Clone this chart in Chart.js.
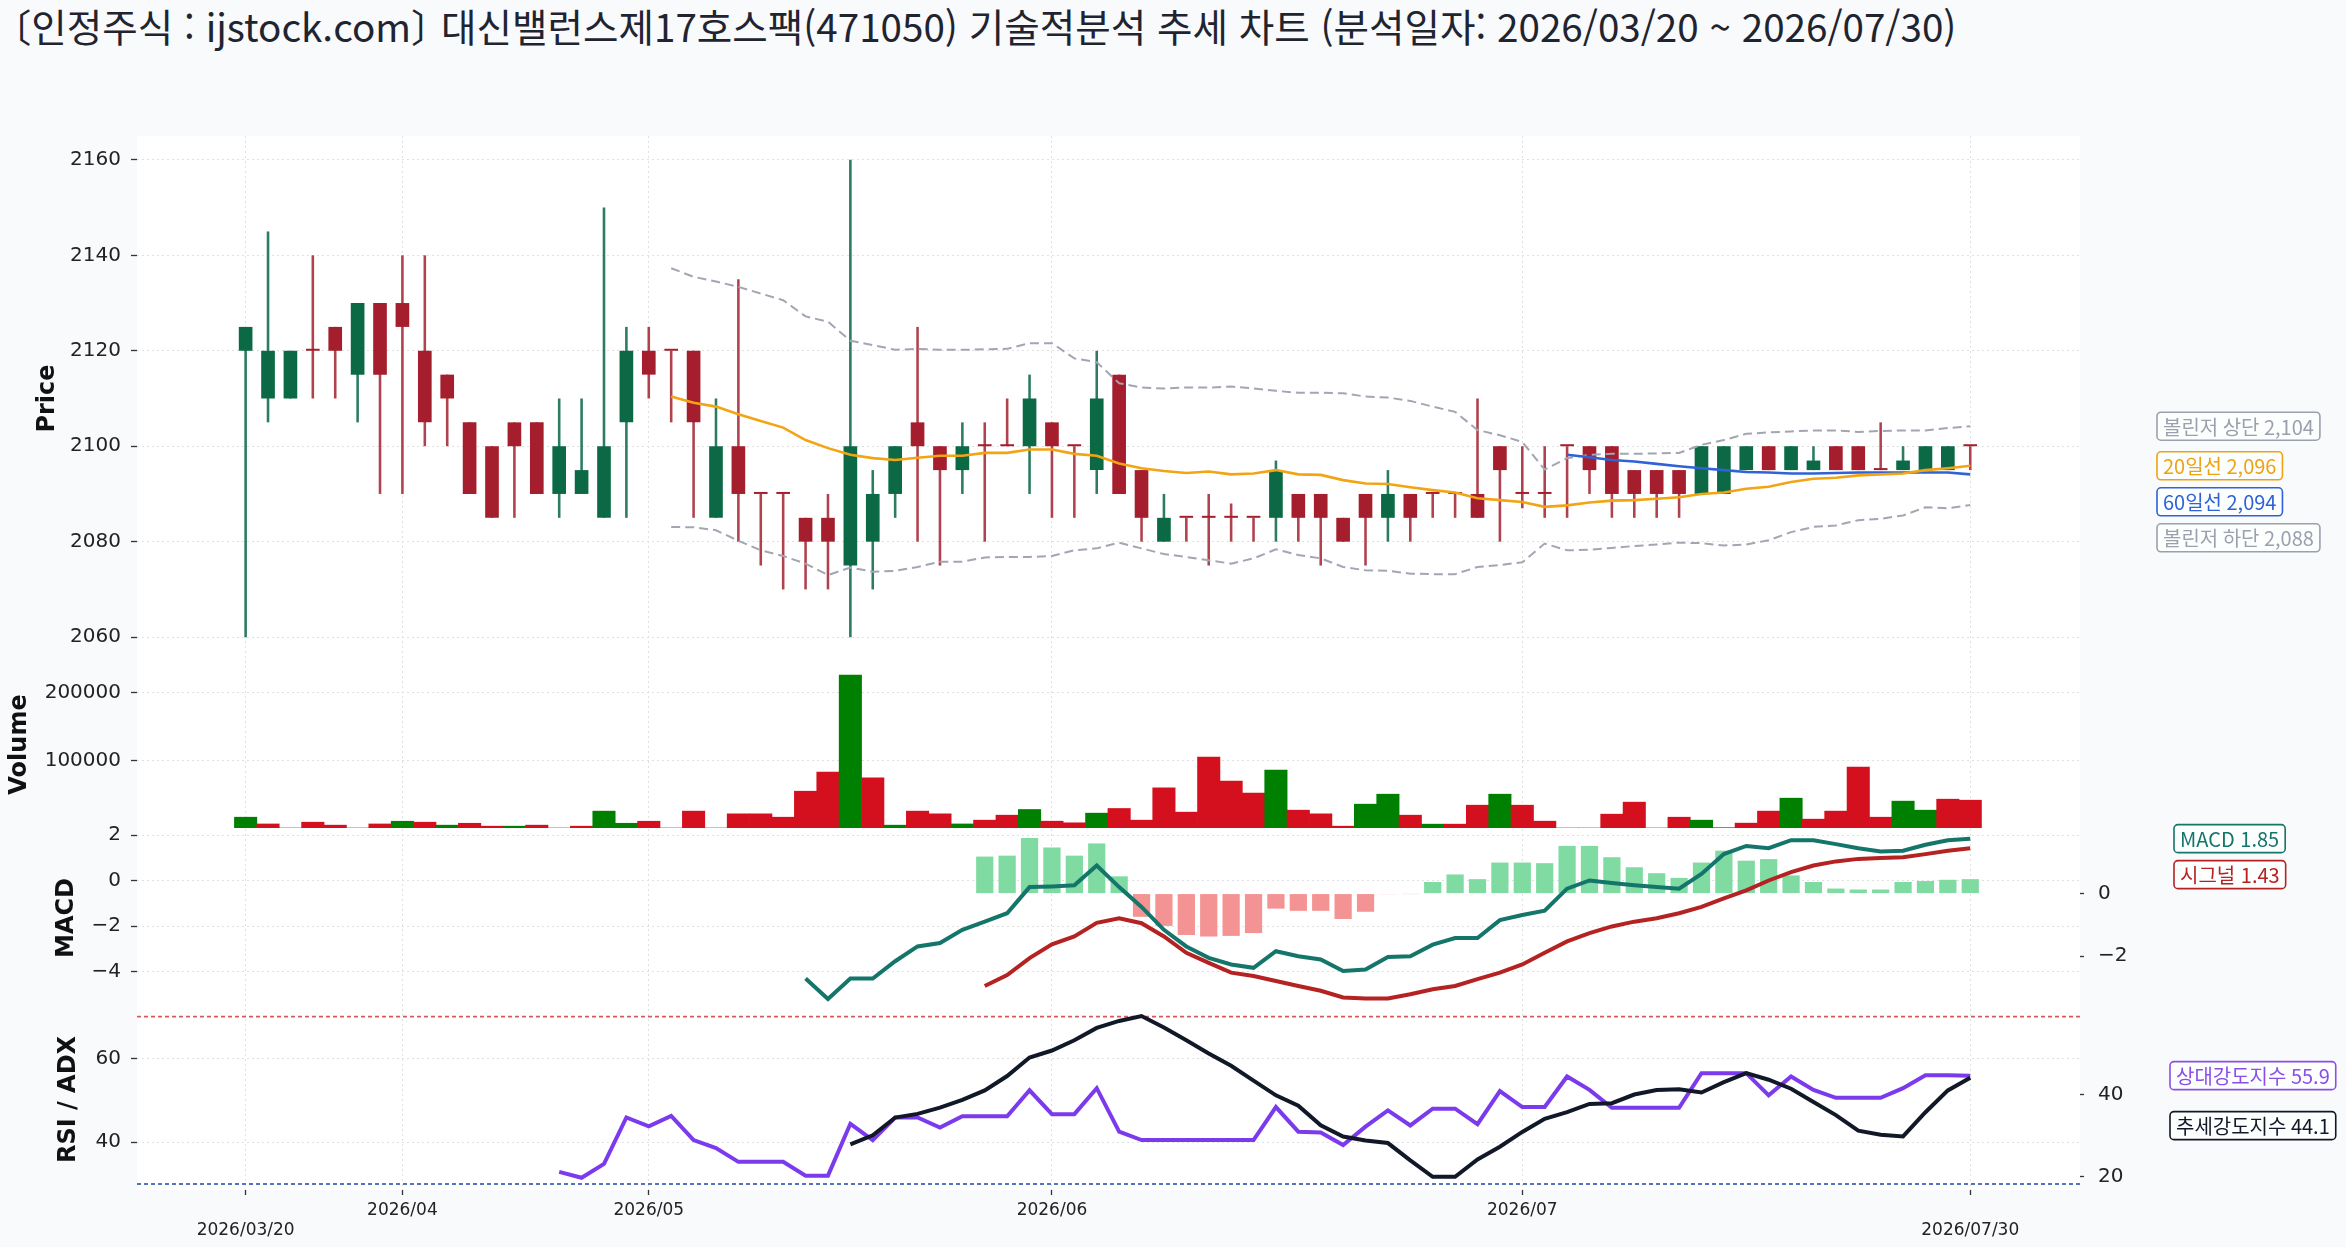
<!DOCTYPE html>
<html lang="ko">
<head>
<meta charset="utf-8">
<title>대신밸런스제17호스팩 기술적분석 추세 차트</title>
<script src="https://cdn.jsdelivr.net/npm/chart.js@4.4.1/dist/chart.umd.min.js"></script>
<style>
  html, body { margin:0; padding:0; }
  body { width:2346px; height:1247px; position:relative; overflow:hidden; background:#f8fafc; }
  #title { position:absolute; left:12px; top:2px; height:46px; line-height:46px;
           font-family:'Noto Sans CJK KR','Noto Sans',sans-serif; font-size:38.6px; color:#1f2430; white-space:nowrap; }
  #title .br { font-feature-settings:"halt"; }
  #plotbg { position:absolute; left:137px; top:136px; width:1943px; height:1054px; background:#ffffff; }
  canvas { position:absolute; left:0; }
</style>
</head>
<body>
<div id="title"><span class="br">〔</span>인정주식 : ijstock.com<span class="br">〕</span> 대신밸런스제17호스팩(471050) 기술적분석 추세 차트 (분석일자: 2026/03/20 ~ 2026/07/30)</div>
<div id="plotbg"></div>
<canvas id="cPrice" width="2346" height="575" style="top:111px"></canvas>
<canvas id="cVol" width="2346" height="217" style="top:636px"></canvas>
<canvas id="cMacd" width="2346" height="230" style="top:803px"></canvas>
<canvas id="cRsi" width="2346" height="264" style="top:983px"></canvas>
<script>
const N = null;
// ---------- categories (trading days) ----------
const dates = [
 "2026/03/20","2026/03/23","2026/03/24","2026/03/25","2026/03/26","2026/03/27","2026/03/30",
 "2026/04/01","2026/04/02","2026/04/06","2026/04/08","2026/04/10","2026/04/14","2026/04/16","2026/04/20","2026/04/22","2026/04/24","2026/04/28",
 "2026/05/04","2026/05/06","2026/05/07","2026/05/08","2026/05/11","2026/05/12","2026/05/13","2026/05/14","2026/05/15","2026/05/18","2026/05/19","2026/05/20","2026/05/21","2026/05/22","2026/05/26","2026/05/27","2026/05/28","2026/05/29",
 "2026/06/01","2026/06/02","2026/06/04","2026/06/05","2026/06/08","2026/06/09","2026/06/10","2026/06/11","2026/06/12","2026/06/15","2026/06/16","2026/06/17","2026/06/18","2026/06/19","2026/06/22","2026/06/23","2026/06/24","2026/06/25","2026/06/26","2026/06/29","2026/06/30",
 "2026/07/01","2026/07/02","2026/07/03","2026/07/06","2026/07/07","2026/07/08","2026/07/09","2026/07/10","2026/07/13","2026/07/14","2026/07/15","2026/07/16","2026/07/20","2026/07/21","2026/07/22","2026/07/23","2026/07/24","2026/07/27","2026/07/28","2026/07/29","2026/07/30"
];
// ---------- OHLC ----------
const openP = [2120,2110,2110,2120,2125,2115,2130,2130,2120,2115, 2105,2100,2105,2105,2090,2090,2085,2105,2120,2120,
 2120,2085,2100,2090,2090,2085,2085,2075,2080,2090, 2105,2100,2095,2100,2100,2100,2105,2100,2095,2115,
 2095,2080,2085,2085,2085,2085,2085,2090,2090,2085, 2090,2085,2090,2090,2090,2090,2100,2090,2090,2100,
 2100,2100,2095,2095,2095,2090,2090,2095,2100,2095, 2095,2100,2100,2095,2095,2095,2095,2100];
const highP = [2125,2145,2120,2140,2125,2130,2130,2140,2140,2115, 2105,2100,2105,2105,2110,2110,2150,2125,2125,2120,
 2120,2110,2135,2090,2090,2085,2090,2160,2095,2100, 2125,2100,2105,2105,2110,2115,2105,2100,2120,2115,
 2095,2090,2085,2090,2088,2085,2097,2090,2090,2085, 2090,2095,2090,2090,2090,2110,2100,2100,2100,2100,
 2100,2100,2095,2095,2095,2100,2100,2100,2100,2100, 2100,2100,2100,2105,2100,2100,2100,2100];
const lowP = [2060,2105,2110,2110,2110,2105,2090,2090,2100,2100, 2090,2085,2085,2090,2085,2090,2085,2085,2110,2105,
 2085,2085,2080,2075,2070,2070,2070,2060,2070,2085, 2080,2075,2090,2080,2100,2090,2085,2085,2090,2090,
 2080,2080,2080,2075,2080,2080,2080,2080,2075,2080, 2075,2080,2080,2085,2085,2085,2080,2087,2085,2085,
 2090,2085,2085,2085,2085,2090,2090,2095,2095,2095, 2095,2095,2095,2095,2095,2095,2095,2095];
const closeP = [2125,2120,2120,2120,2120,2130,2115,2125,2105,2110, 2090,2085,2100,2090,2100,2095,2100,2120,2115,2120,
 2105,2100,2090,2090,2090,2080,2080,2100,2090,2100, 2100,2095,2100,2100,2100,2110,2100,2100,2110,2090,
 2085,2085,2085,2085,2085,2085,2095,2085,2085,2080, 2085,2090,2085,2090,2090,2085,2095,2090,2090,2100,
 2095,2090,2090,2090,2090,2100,2100,2100,2095,2100, 2097,2095,2095,2095,2097,2100,2100,2100];
const volume = [16000,6000,0,8600,4200,0,6000,10000,8600,4200, 7000,2700,2700,4200,0,2700,25000,7000,10000,0,
 25000,0,21000,21000,16000,54500,82700,226400,74300,4200, 25000,21000,6000,11600,19000,27400,10100,7700,22000,28900,
 11600,59500,23500,105000,69400,51600,85700,26400,21000,2700, 35300,50100,19000,5700,5700,33800,50100,33800,10100,0,
 0,20500,38300,0,16000,11600,500,7200,25000,44200, 13100,25000,90100,16000,39800,26400,42700,41200];
// ---------- overlays ----------
const ma20 = [N,N,N,N,N,N,N,N,N,N, N,N,N,N,N,N,N,N,N,
 2110.4,2109.1,2108.3,2106.7,2105.3,2103.9,2101.3,2099.6,2098.2,2097.5,
 2097.1,2097.6,2098.0,2098.0,2098.6,2098.6,2099.3,2099.3,2098.4,2098.0,
 2096.4,2095.4,2094.8,2094.4,2094.7,2094.1,2094.3,2095.0,2094.1,2094.0,
 2092.9,2092.2,2092.1,2091.4,2090.8,2090.3,2089.1,2088.7,2088.3,2087.3,
 2087.6,2088.2,2088.6,2088.7,2089.0,2089.3,2090.0,2090.3,2091.1,2091.5,
 2092.5,2093.2,2093.4,2093.9,2094.1,2094.3,2095.0,2095.4,2095.9];
const ma60 = [N,N,N,N,N,N,N,N,N,N, N,N,N,N,N,N,N,N,N,N, N,N,N,N,N,N,N,N,N,N, N,N,N,N,N,N,N,N,N,N,
 N,N,N,N,N,N,N,N,N,N, N,N,N,N,N,N,N,N,N,
 2098.2,2097.7,2097.1,2096.8,2096.3,2095.8,2095.4,2095.0,2094.6,2094.5,
 2094.3,2094.3,2094.4,2094.5,2094.5,2094.5,2094.5,2094.5,2094.1];
const bbUpper = [N,N,N,N,N,N,N,N,N,N, N,N,N,N,N,N,N,N,N,
 2137.3,2135.5,2134.5,2133.4,2132.0,2130.6,2127.2,2126.1,2122.1,2121.2,
 2120.2,2120.4,2120.2,2120.2,2120.3,2120.4,2121.6,2121.6,2118.4,2117.6,
 2113.2,2112.3,2112.1,2112.3,2112.3,2112.5,2112.1,2111.6,2111.2,2111.2,
 2111.1,2110.4,2110.2,2109.5,2108.3,2107.2,2103.4,2102.3,2100.9,2095.1,
 2097.5,2098.2,2098.4,2098.4,2098.5,2098.6,2100.3,2101.3,2102.6,2102.9,
 2103.1,2103.3,2103.3,2103.0,2103.2,2103.3,2103.3,2103.8,2104.2];
const bbLower = [N,N,N,N,N,N,N,N,N,N, N,N,N,N,N,N,N,N,N,
 2083.1,2083.0,2082.4,2080.2,2078.2,2077.0,2075.4,2073.0,2074.6,2073.7,
 2073.9,2074.7,2075.8,2075.8,2076.7,2076.8,2076.8,2077.0,2078.2,2078.6,
 2079.8,2078.6,2077.4,2076.8,2076.1,2075.4,2076.5,2078.4,2077.2,2076.5,
 2074.7,2074.0,2073.9,2073.3,2073.2,2073.2,2074.7,2075.1,2075.7,2079.6,
 2078.2,2078.3,2078.7,2079.1,2079.4,2079.8,2079.7,2079.2,2079.4,2080.3,
 2082.0,2083.1,2083.4,2084.5,2084.8,2085.5,2087.2,2087.0,2087.7];
// ---------- MACD ----------
const macdLine = [N,N,N,N,N,N,N,N,N,N, N,N,N,N,N,N,N,N,N,N, N,N,N,N,N,
 -4.30,-5.20,-4.30,-4.30,-3.54,-2.89,-2.74,-2.16,-1.80,-1.43,
 -0.28,-0.25,-0.20,0.67,-0.28,-1.15,-2.16,-2.89,-3.39,-3.68,
 -3.83,-3.10,-3.32,-3.46,-3.97,-3.90,-3.35,-3.32,-2.81,-2.52,
 -2.52,-1.73,-1.51,-1.32,-0.35,0.01,-0.10,-0.20,-0.28,-0.35,
 0.30,1.17,1.53,1.43,1.78,1.78,1.61,1.43,1.29,1.32,
 1.58,1.78,1.85];
const signalLine = [N,N,N,N,N,N,N,N,N,N, N,N,N,N,N,N,N,N,N,N, N,N,N,N,N,N,N,N,N,N, N,N,N,
 -4.63,-4.15,-3.40,-2.80,-2.45,-1.85,-1.65,-1.87,-2.45,-3.17,
 -3.61,-4.04,-4.19,-4.41,-4.63,-4.84,-5.13,-5.18,-5.18,-4.99,
 -4.77,-4.63,-4.33,-4.04,-3.68,-3.17,-2.67,-2.30,-2.01,-1.80,
 -1.65,-1.43,-1.15,-0.78,-0.42,0.01,0.38,0.67,0.85,0.96,
 1.00,1.03,1.17,1.32,1.43];
const macdHist = [N,N,N,N,N,N,N,N,N,N, N,N,N,N,N,N,N,N,N,N, N,N,N,N,N,N,N,N,N,N, N,N,N,
 1.18,1.21,1.77,1.47,1.21,1.60,0.55,-0.74,-1.03,-1.32,
 -1.37,-1.35,-1.26,-0.48,-0.55,-0.55,-0.81,-0.58,-0.02,-0.01,
 0.37,0.61,0.46,0.99,0.99,0.97,1.52,1.52,1.16,0.84,
 0.65,0.50,0.99,1.37,1.05,1.10,0.58,0.37,0.16,0.13,
 0.13,0.37,0.40,0.44,0.46];
// ---------- RSI / ADX ----------
const rsi = [N,N,N,N,N,N,N,N,N,N, N,N,N,N,
 32.9,31.5,34.8,45.9,43.8,46.3,40.5,38.6,35.3,35.3,
 35.3,32.0,32.0,44.4,40.5,45.9,45.9,43.5,46.2,46.2,
 46.2,52.4,46.7,46.7,52.9,42.5,40.5,40.5,40.5,40.5,
 40.5,40.5,48.4,42.5,42.3,39.3,43.7,47.6,44.0,48.0,
 48.0,44.3,52.2,48.4,48.4,55.7,52.5,48.2,48.2,48.2,
 48.2,56.5,56.5,56.5,51.2,55.7,52.5,50.6,50.6,50.6,
 52.9,56.0,56.0,55.9];
const adx = [N,N,N,N,N,N,N,N,N,N, N,N,N,N,N,N,N,N,N,N, N,N,N,N,N,N,N,
 27.9,30.1,34.4,35.3,36.8,38.7,41.0,44.5,49.0,50.7,
 53.2,56.2,57.9,59.1,56.3,53.2,50.0,47.0,43.4,39.8,
 37.3,32.5,29.8,28.8,28.2,24.0,20.0,20.0,24.2,27.3,
 30.9,34.1,35.7,37.7,37.9,40.0,41.1,41.3,40.5,43.0,
 45.2,43.6,41.4,38.2,35.0,31.2,30.2,29.8,35.7,41.0,
 44.1];
// ---------- tick values ----------
const priceTicks = [2060, 2080, 2100, 2120, 2140, 2160];
const volumeTicks = [100000, 200000];
const macdTicks = [-4, -2, 0, 2];
const histTicks = [-2, 0];
const rsiTicks = [40, 60];
const adxTicks = [20, 40];
const rsiLevels = [70, 30];

// ---------- derived helpers ----------
const idx = dates.map((d, i) => i);
const last = a => a[a.length - 1];
const tickIdx = idx.filter(i => i === 0 || i === dates.length - 1 || dates[i].slice(0, 7) !== dates[i - 1].slice(0, 7));
const xTickLabel = v => {
  const i = Math.round(v);
  if (i === 0 || i === dates.length - 1) return ['', dates[i]];
  return dates[i].slice(0, 7);
};
const pts = arr => arr.map((v, i) => (v == null ? null : {x: i, y: v})).filter(p => p !== null);
const minus = v => (v < 0 ? '\u2212' + Math.abs(v) : String(v));
const fmtK = v => Math.round(v).toLocaleString('en-US');

const UP = '#0b6a45', DOWN = '#a51e2d';
const candleColor = idx.map(i => (closeP[i] > openP[i] ? UP : DOWN));
const wickColor = idx.map(i => (closeP[i] > openP[i] ? 'rgba(20,110,80,0.9)' : 'rgba(165,40,55,0.88)'));
const volColor = idx.map(i => (closeP[i] > (i ? closeP[i - 1] : openP[i]) ? '#008000' : '#d4101f'));
const histColor = macdHist.filter(v => v != null).map(v => (v >= 0 ? '#80dba2' : '#f39393'));

const FONT = "'DejaVu Sans', 'Liberation Sans', sans-serif";
const GRID = '#e0e0e0';
const X_MIN = -4.85, X_MAX = 81.9;

function xAxis(show) {
  return {
    type: 'linear', position: 'bottom', min: X_MIN, max: X_MAX, offset: false,
    afterBuildTicks: s => { s.ticks = tickIdx.map(v => ({value: v})); },
    afterFit: s => { s.height = show ? 57 : 0; },
    grid: { display: true, offset: false, drawOnChartArea: true, color: GRID, lineWidth: 1,
            drawTicks: show, tickLength: 5, tickColor: '#333', tickWidth: 1.3 },
    border: { display: false, dash: [2, 3] },
    ticks: { display: show, autoSkip: false, maxRotation: 0, minRotation: 0, padding: 5,
             color: '#222', font: {family: FONT, size: 17}, callback: v => xTickLabel(v) }
  };
}
function yAxis(o) {
  const left = (o.position || 'left') === 'left';
  return {
    type: 'linear', position: o.position || 'left', min: o.min, max: o.max,
    afterBuildTicks: s => { s.ticks = o.ticks.map(v => ({value: v})); },
    afterFit: s => { s.width = o.width; },
    grid: { display: true, drawOnChartArea: o.grid !== false, color: GRID, lineWidth: 1,
            drawTicks: true, tickLength: left ? 6 : 4, tickColor: '#333', tickWidth: 1.3 },
    border: { display: false, dash: [2, 3] },
    ticks: { color: '#222', padding: left ? 10 : 14, font: {family: FONT, size: 20}, callback: o.fmt || minus },
    title: o.title ? { display: true, text: o.title, color: '#111', font: {family: FONT, size: 24, weight: 'bold'},
                       padding: {top: o.titlePad, bottom: 0} } : {display: false}
  };
}
function baseOptions(scales, padding) {
  return {
    responsive: false, animation: false, events: [],
    layout: { padding, autoPadding: false },
    plugins: { legend: {display: false}, tooltip: {enabled: false}, title: {display: false} },
    scales
  };
}
function endLabels(cfg) {
  return {
    id: 'endLabels' + cfg.name,
    afterDraw(chart) {
      const ctx = chart.ctx;
      const items = cfg.items.map(it => Object.assign({}, it, {y: chart.scales[it.axis].getPixelForValue(it.value)}));
      items.sort((a, b) => a.y - b.y);
      for (let k = 1; k < items.length; k++) {
        if (items[k].y < items[k - 1].y + cfg.gap) items[k].y = items[k - 1].y + cfg.gap;
      }
      ctx.save();
      ctx.font = "20px 'Noto Sans CJK KR'";
      ctx.textBaseline = 'middle';
      ctx.textAlign = 'left';
      const x = chart.chartArea.right + cfg.dx;
      items.forEach(it => {
        const w = ctx.measureText(it.text).width + 12, h = 28;
        ctx.beginPath();
        ctx.roundRect(x, it.y - h / 2, w, h, 4);
        ctx.fillStyle = 'rgba(255,255,255,0.75)';
        ctx.fill();
        ctx.lineWidth = 1.6;
        ctx.strokeStyle = it.color;
        ctx.stroke();
        ctx.fillStyle = it.color;
        ctx.fillText(it.text, x + 6, it.y + 1);
      });
      ctx.restore();
    }
  };
}
const levelLines = {
  id: 'levelLines',
  beforeDatasetsDraw(chart) {
    const {ctx, chartArea} = chart;
    const ys = chart.scales.y;
    const cols = ['#d65a5a', '#5573bf'];
    ctx.save();
    ctx.lineWidth = 1.8;
    ctx.setLineDash([4, 3]);
    rsiLevels.forEach((v, k) => {
      const py = ys.getPixelForValue(v);
      ctx.strokeStyle = cols[k];
      ctx.beginPath(); ctx.moveTo(chartArea.left, py); ctx.lineTo(chartArea.right, py); ctx.stroke();
    });
    ctx.restore();
  }
};
const lineDs = (label, data, color, width, extra) => Object.assign({
  type: 'line', label, data: pts(data), borderColor: color, borderWidth: width,
  pointRadius: 0, fill: false, tension: 0, spanGaps: false
}, extra || {});

// ---------- Price ----------
new Chart(document.getElementById('cPrice'), {
  type: 'bar',
  data: { datasets: [
    lineDs('20일선', ma20, '#f2a413', 2.6, {order: 0}),
    lineDs('60일선', ma60, '#2f62d6', 2.6, {order: 0}),
    lineDs('볼린저 상단', bbUpper, '#a2a6b3', 2, {borderDash: [9, 5], order: 1}),
    lineDs('볼린저 하단', bbLower, '#a2a6b3', 2, {borderDash: [9, 5], order: 1}),
    { type: 'bar', label: 'body', data: idx.map(i => ({x: i, y: [openP[i], closeP[i]]})),
      backgroundColor: candleColor, barPercentage: 0.61, categoryPercentage: 1, grouped: false, minBarLength: 2, order: 2 },
    { type: 'bar', label: 'wick', data: idx.map(i => ({x: i, y: [lowP[i], highP[i]]})),
      backgroundColor: wickColor, barPercentage: 0.115, categoryPercentage: 1, grouped: false, order: 3 }
  ]},
  options: baseOptions({
    x: xAxis(false),
    y: yAxis({min: 2055, max: 2165, ticks: priceTicks, title: 'Price', titlePad: 33.6, width: 137, fmt: v => String(v)})
  }, {top: 25, bottom: 25, left: 0, right: 266}),
  plugins: [endLabels({name: 'P', dx: 77, gap: 36, items: [
    {text: '볼린저 상단 ' + fmtK(last(bbUpper)), value: last(bbUpper), axis: 'y', color: '#9aa0ad'},
    {text: '20일선 ' + fmtK(last(ma20)), value: last(ma20), axis: 'y', color: '#eea212'},
    {text: '60일선 ' + fmtK(last(ma60)), value: last(ma60), axis: 'y', color: '#2f62d6'},
    {text: '볼린저 하단 ' + fmtK(last(bbLower)), value: last(bbLower), axis: 'y', color: '#9aa0ad'}
  ]})]
});

// ---------- Volume ----------
new Chart(document.getElementById('cVol'), {
  type: 'bar',
  data: { datasets: [
    { label: 'Volume', data: idx.map(i => ({x: i, y: volume[i]})), backgroundColor: volColor,
      barPercentage: 1, categoryPercentage: 1, grouped: false }
  ]},
  options: baseOptions({
    x: xAxis(false),
    y: yAxis({min: 0, max: 247400, ticks: volumeTicks, title: 'Volume', titlePad: 5.1, width: 137, fmt: v => String(v)})
  }, {top: 25, bottom: 25, left: 0, right: 266})
});

// ---------- MACD ----------
new Chart(document.getElementById('cMacd'), {
  type: 'bar',
  data: { datasets: [
    lineDs('MACD', macdLine, '#14756a', 4, {order: 0, yAxisID: 'y'}),
    lineDs('시그널', signalLine, '#b52222', 4, {order: 1, yAxisID: 'y'}),
    { type: 'bar', label: 'hist', data: pts(macdHist), backgroundColor: histColor, yAxisID: 'yH',
      barPercentage: 0.77, categoryPercentage: 1, grouped: false, order: 2 }
  ]},
  options: baseOptions({
    x: xAxis(false),
    y: yAxis({min: -5.552, max: 2.274, ticks: macdTicks, title: 'MACD', titlePad: 52.6, width: 137}),
    yH: yAxis({position: 'right', min: -3.618, max: 2.06, ticks: histTicks, width: 266, grid: false})
  }, {top: 25, bottom: 25, left: 0, right: 0}),
  plugins: [endLabels({name: 'M', dx: 94, gap: 36, items: [
    {text: 'MACD ' + last(macdLine).toFixed(2), value: last(macdLine), axis: 'y', color: '#14756a'},
    {text: '시그널 ' + last(signalLine).toFixed(2), value: last(signalLine), axis: 'y', color: '#b52222'}
  ]})]
});

// ---------- RSI / ADX ----------
new Chart(document.getElementById('cRsi'), {
  type: 'line',
  data: { datasets: [
    lineDs('추세강도지수', adx, '#111827', 4, {order: 0, yAxisID: 'yA'}),
    lineDs('상대강도지수', rsi, '#7c3aed', 4, {order: 1, yAxisID: 'y'})
  ]},
  options: baseOptions({
    x: xAxis(true),
    y: yAxis({min: 28.57, max: 71.83, ticks: rsiTicks, title: 'RSI / ADX', titlePad: 54.6, width: 137}),
    yA: yAxis({position: 'right', min: 16.78, max: 60.80, ticks: adxTicks, width: 266, grid: false})
  }, {top: 25, bottom: 0, left: 0, right: 0}),
  plugins: [levelLines, endLabels({name: 'R', dx: 90, gap: 50, items: [
    {text: '상대강도지수 ' + last(rsi).toFixed(1), value: last(rsi), axis: 'y', color: '#8b4fe6'},
    {text: '추세강도지수 ' + last(adx).toFixed(1), value: last(adx), axis: 'yA', color: '#111827'}
  ]})]
});
</script>
</body>
</html>
